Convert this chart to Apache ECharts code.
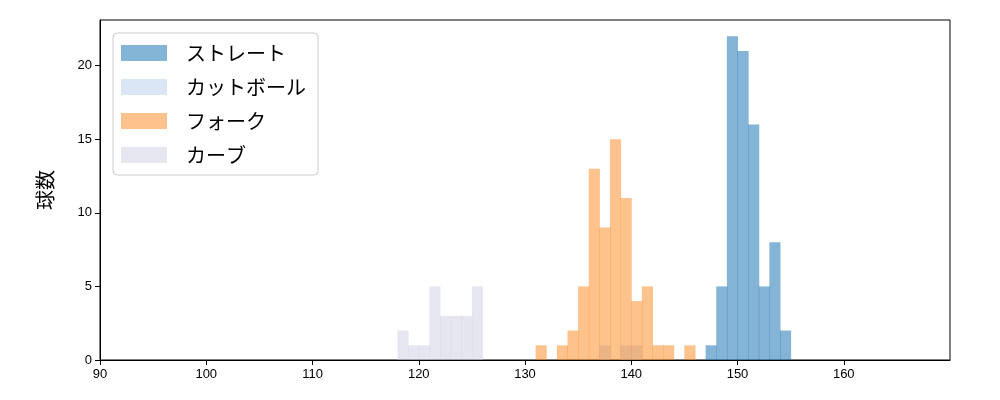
<!DOCTYPE html>
<html><head><meta charset="utf-8">
<script src="https://cdn.jsdelivr.net/npm/echarts@6/dist/echarts.min.js"></script>
</head><body style="margin:0">
<div id="box1" style="width:1000px;height:400px"></div>
<script>
var myChart = echarts.init(document.getElementById('box1'))
// bin start (width 1) and count
let names = ['ストレート', 'カットボール', 'フォーク', 'カーブ'];
let colors = ['rgba(31,119,180,0.55)', 'rgba(174,199,232,0.45)', 'rgba(253,127,14,0.48)', 'rgba(200,200,225,0.45)'];
let straightBins = [147, 148, 149, 150, 151, 152, 153, 154];
let straightCounts = [1, 5, 22, 21, 16, 5, 8, 2];
let cutBins = [137, 139, 140];
let cutCounts = [1, 1, 1];
let forkBins = [131, 133, 134, 135, 136, 137, 138, 139, 140, 141, 142, 143, 145];
let forkCounts = [1, 1, 2, 5, 13, 9, 15, 11, 4, 5, 1, 1, 1];
let curveBins = [118, 119, 120, 121, 122, 123, 124, 125];
let curveCounts = [2, 1, 1, 5, 3, 3, 3, 5];
let xTicks = [90, 100, 110, 120, 130, 140, 150, 160];
let yTicks = [0, 5, 10, 15, 20];
let binW = 1;

function makeSeries(i, bins, counts) {
    return {
        name: names[i],
        type: 'custom',
        itemStyle: { color: colors[i] },
        renderItem: function (params, api) {
            var p0 = api.coord([api.value(0), api.value(1)]);
            var p1 = api.coord([api.value(0) + binW, 0]);
            return {
                type: 'rect',
                shape: { x: p0[0], y: p0[1], width: p1[0] - p0[0] + 0.5, height: p1[1] - p0[1] },
                style: { fill: colors[i] }
            };
        },
        data: bins.map(function (b, k) { return [b, counts[k]]; })
    };
}

option = {
    animation: false,
    grid: { left: 100, right: 50, top: 20, bottom: 40 },
    legend: {
        left: 113, top: 33, orient: 'vertical', itemGap: 14,
        itemWidth: 46, itemHeight: 16, icon: 'rect',
        padding: [10, 12, 10, 8],
        borderColor: '#ccc', borderWidth: 1, borderRadius: 4,
        textStyle: { fontSize: 20, color: '#000', fontFamily: 'Noto Sans CJK JP', padding: [0, 0, 0, 14] },
        data: names.map(function (n, i) { return { name: n, itemStyle: { color: colors[i] } }; })
    },
    xAxis: {
        type: 'value', min: 90, max: 170, interval: 10,
        splitLine: { show: false },
        axisLine: { onZero: false, lineStyle: { color: '#000' } },
        axisTick: { customValues: xTicks, lineStyle: { color: '#000' } },
        axisLabel: { customValues: xTicks, color: '#000', fontSize: 13 }
    },
    yAxis: {
        type: 'value', min: 0, max: 23.1, interval: 5,
        name: '球数', nameLocation: 'middle', nameGap: 45,
        nameTextStyle: { fontSize: 20, color: '#000', fontFamily: 'Noto Sans CJK JP' },
        splitLine: { show: false },
        axisLine: { show: true, lineStyle: { color: '#000' } },
        axisTick: { show: true, customValues: yTicks, lineStyle: { color: '#000' } },
        axisLabel: { customValues: yTicks, color: '#000', fontSize: 13 }
    },
    series: [
        makeSeries(0, straightBins, straightCounts),
        makeSeries(1, cutBins, cutCounts),
        makeSeries(2, forkBins, forkCounts),
        makeSeries(3, curveBins, curveCounts),
        { type: 'line', data: [], markArea: { silent: true, itemStyle: { color: 'rgba(0,0,0,0)', borderColor: '#000', borderWidth: 1 }, data: [[{ coord: [90, 0] }, { coord: [170, 23.1] }]] } }
    ]
};
myChart.setOption(option);
</script>
</body></html>
